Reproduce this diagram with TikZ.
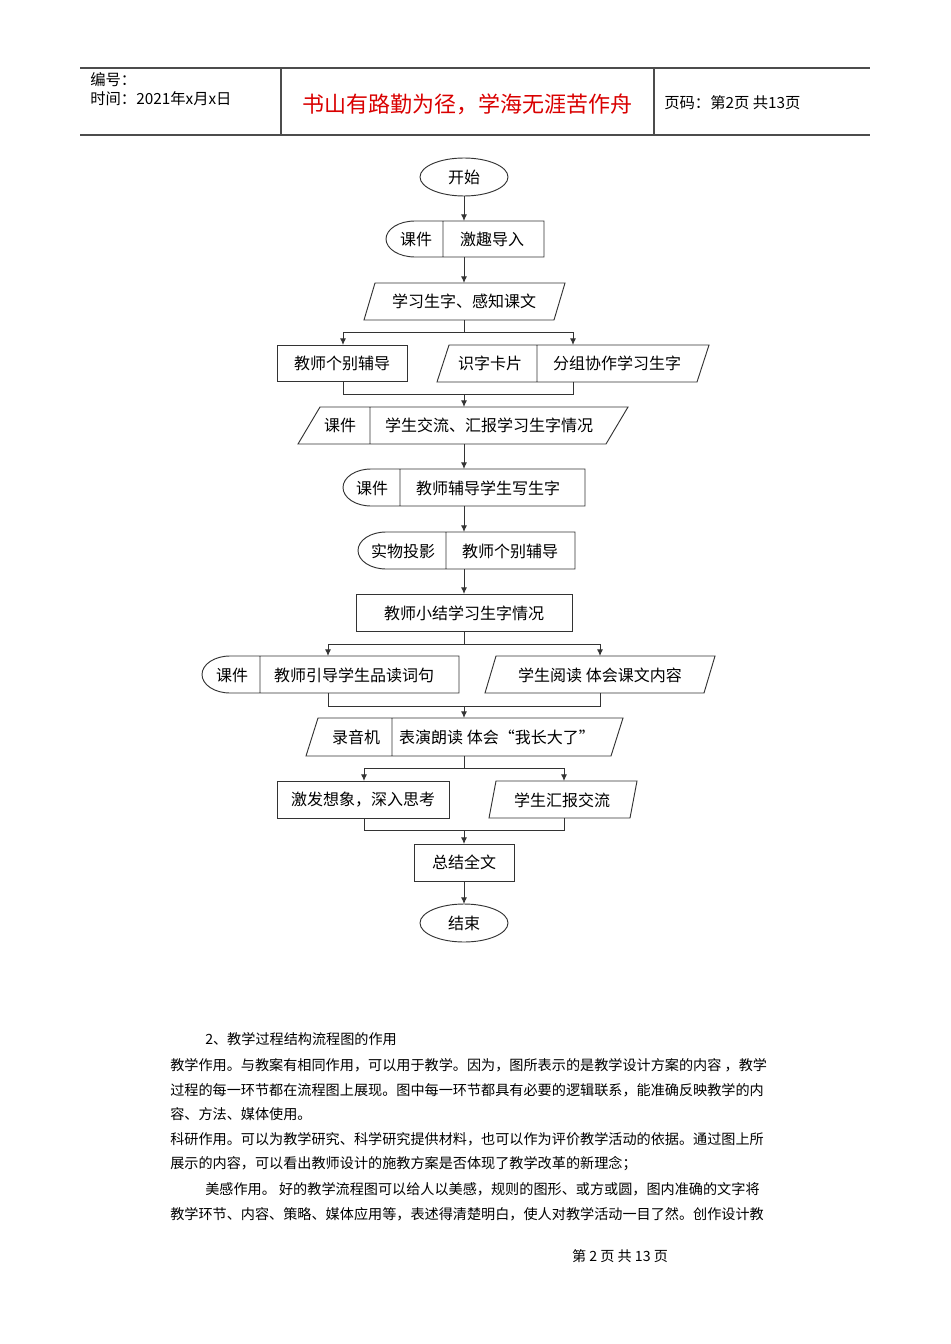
\documentclass[tikz,border=0pt]{standalone}
\usepackage{fontspec}
\setmainfont{Noto Sans CJK SC}
\usetikzlibrary{arrows.meta}
\begin{document}
\begin{tikzpicture}[x=0.75pt,y=-0.75pt,
  box/.style={draw=black!80,line width=0.7pt},
  lbl/.style={font=\fontsize{12pt}{14pt}\selectfont,inner sep=0pt},
  conn/.style={draw=black!80,line width=0.7pt},
  arr/.style={conn,-{Latex[length=5pt,width=4.5pt]}},
  para/.style={font=\fontsize{10.6pt}{12pt}\selectfont,inner sep=0pt,anchor=west}]
\useasboundingbox (0,0) rectangle (950,1344);
% header
\draw[line width=0.8pt,black!70] (80,68) -- (870,68) (80,135) -- (870,135) (281,68) -- (281,135) (654,68) -- (654,135);
\node[anchor=west,inner sep=0pt,font=\fontsize{11.5pt}{13pt}\selectfont] (h1) at (90,80) {编号：};
\node[anchor=west,inner sep=0pt,font=\fontsize{11.5pt}{13pt}\selectfont] (h2) at (90,99) {时间：2021年x月x日};
\node[inner sep=0pt,text=red!85!black,font=\fontsize{16.5pt}{18pt}\selectfont] (h3) at (467,104) {书山有路勤为径，学海无涯苦作舟};
\node[anchor=west,inner sep=0pt,font=\fontsize{11.5pt}{13pt}\selectfont] (h4) at (664,103) {页码：第2页\ 共13页};
% start
\draw[box] (464,177) ellipse (44 and 19);
\node[lbl] (start) at (464,177) {开始};
% row 2
\draw[box] (443,221) -- (415,221) arc[start angle=270,end angle=90,x radius=29,y radius=18] -- (443,257) (443,221) rectangle (544,257);
\node[lbl] (r2a) at (416,239) {课件};
\node[lbl] (r2b) at (492,239) {激趣导入};
% row 3
\draw[box] (375,283) -- (565,283) -- (554,320) -- (364,320) -- cycle;
\node[lbl] (r3) at (464,301) {学习生字、感知课文};
% row 4
\draw[box] (277,345) rectangle (407,381);
\node[lbl] (r4a) at (342,363) {教师个别辅导};
\draw[box] (449,345) -- (709,345) -- (697,382) -- (437,382) -- cycle (537,345) -- (537,382);
\node[lbl] (r4b) at (490,363) {识字卡片};
\node[lbl] (r4c) at (617,363) {分组协作学习生字};
% row 5
\draw[box] (320,407) -- (628,407) -- (606,444) -- (298,444) -- cycle (370,407) -- (370,444);
\node[lbl] (r5a) at (340,425) {课件};
\node[lbl] (r5b) at (489,425) {学生交流、汇报学习生字情况};
% row 6
\draw[box] (400,469) -- (371,469) arc[start angle=270,end angle=90,x radius=28,y radius=18.5] -- (400,506) (400,469) rectangle (585,506);
\node[lbl] (r6a) at (372,488) {课件};
\node[lbl] (r6b) at (488,488) {教师辅导学生写生字};
% row 7
\draw[box] (446,532) -- (386,532) arc[start angle=270,end angle=90,x radius=28,y radius=18.5] -- (446,569) (446,532) rectangle (575,569);
\node[lbl] (r7a) at (403,551) {实物投影};
\node[lbl] (r7b) at (510,551) {教师个别辅导};
% row 8
\draw[box] (356,594) rectangle (572,631);
\node[lbl] (r8) at (464,613) {教师小结学习生字情况};
% row 9
\draw[box] (260,656) -- (230,656) arc[start angle=270,end angle=90,x radius=28,y radius=18.5] -- (260,693) (260,656) rectangle (459,693);
\node[lbl] (r9a) at (232,675) {课件};
\node[lbl] (r9b) at (354,675) {教师引导学生品读词句};
\draw[box] (496,656) -- (715,656) -- (704,693) -- (485,693) -- cycle;
\node[lbl] (r9c) at (600,675) {学生阅读\ 体会课文内容};
% row 10
\draw[box] (318,718) -- (623,718) -- (611,756) -- (306,756) -- cycle (392,718) -- (392,756);
\node[lbl] (r10a) at (356,737) {录音机};
\node[lbl] (r10b) at (497,737) {表演朗读\ 体会“我长大了”};
% row 11
\draw[box] (277,781) rectangle (449,818);
\node[lbl] (r11a) at (363,800) {激发想象，深入思考};
\draw[box] (496,781) -- (637,781) -- (630,818) -- (489,818) -- cycle;
\node[lbl] (r11b) at (562,800) {学生汇报交流};
% row 12
\draw[box] (414,844) rectangle (514,881);
\node[lbl] (r12) at (464,862) {总结全文};
\draw[box] (464,923) ellipse (44 and 19);
\node[lbl] (end) at (464,923) {结束};
% connector coordinates
\coordinate (a1) at (464,196); \coordinate (a2) at (464,221);
\coordinate (b1) at (464,257); \coordinate (b2) at (464,283);
\coordinate (c1) at (464,320); \coordinate (c2) at (464,332);
\coordinate (cl) at (343,332); \coordinate (cr) at (573,332);
\coordinate (cl2) at (343,345); \coordinate (cr2) at (573,345);
\coordinate (dl) at (343,381); \coordinate (dr) at (573,382);
\coordinate (dl2) at (343,394); \coordinate (dr2) at (573,394);
\coordinate (dm) at (464,394); \coordinate (dm2) at (464,407);
\coordinate (e1) at (464,444); \coordinate (e2) at (464,469);
\coordinate (f1) at (464,506); \coordinate (f2) at (464,532);
\coordinate (g1) at (464,569); \coordinate (g2) at (464,594);
\coordinate (h1c) at (464,631); \coordinate (h2c) at (464,644);
\coordinate (hl) at (328,644); \coordinate (hr) at (600,644);
\coordinate (hl2) at (328,656); \coordinate (hr2) at (600,656);
\coordinate (il) at (328,693); \coordinate (ir) at (600,693);
\coordinate (il2) at (328,706); \coordinate (ir2) at (600,706);
\coordinate (im) at (464,706); \coordinate (im2) at (464,718);
\coordinate (j1) at (464,756); \coordinate (j2) at (464,768);
\coordinate (jl) at (364,768); \coordinate (jr) at (564,768);
\coordinate (jl2) at (364,781); \coordinate (jr2) at (564,781);
\coordinate (kl) at (364,818); \coordinate (kr) at (564,818);
\coordinate (kl2) at (364,830); \coordinate (kr2) at (564,830);
\coordinate (km) at (464,830); \coordinate (km2) at (464,844);
\coordinate (l1) at (464,881); \coordinate (l2) at (464,904);
\draw[arr] (a1) -- (a2);
\draw[arr] (b1) -- (b2);
\draw[conn] (c1) -- (c2) (cl) -- (cr);
\draw[arr] (cl) -- (cl2);
\draw[arr] (cr) -- (cr2);
\draw[conn] (dl) -- (dl2) -- (dr2) -- (dr);
\draw[arr] (dm) -- (dm2);
\draw[arr] (e1) -- (e2);
\draw[arr] (f1) -- (f2);
\draw[arr] (g1) -- (g2);
\draw[conn] (h1c) -- (h2c) (hl) -- (hr);
\draw[arr] (hl) -- (hl2);
\draw[arr] (hr) -- (hr2);
\draw[conn] (il) -- (il2) -- (ir2) -- (ir);
\draw[arr] (im) -- (im2);
\draw[conn] (j1) -- (j2) (jl) -- (jr);
\draw[arr] (jl) -- (jl2);
\draw[arr] (jr) -- (jr2);
\draw[conn] (kl) -- (kl2) -- (kr2) -- (kr);
\draw[arr] (km) -- (km2);
\draw[arr] (l1) -- (l2);
% text
\node[para] (p1) at (205,1039) {2、教学过程结构流程图的作用};
\node[para] (p2) at (170,1065) {教学作用。与教案有相同作用，可以用于教学。因为，图所表示的是教学设计方案的内容\ ，教学};
\node[para] (p3) at (170,1090) {过程的每一环节都在流程图上展现。图中每一环节都具有必要的逻辑联系，能准确反映教学的内};
\node[para] (p4) at (170,1114) {容、方法、媒体使用。};
\node[para] (p5) at (170,1139) {科研作用。可以为教学研究、科学研究提供材料，也可以作为评价教学活动的依据。通过图上所};
\node[para] (p6) at (170,1164) {展示的内容，可以看出教师设计的施教方案是否体现了教学改革的新理念；};
\node[para] (p7) at (205,1189) {美感作用。\ 好的教学流程图可以给人以美感，规则的图形、或方或圆，图内准确的文字将};
\node[para] (p8) at (170,1214) {教学环节、内容、策略、媒体应用等，表述得清楚明白，使人对教学活动一目了然。创作设计教};
\node[para,anchor=center] (p9) at (620,1256) {第\ 2\ 页\ 共\ 13\ 页};
\end{tikzpicture}
\end{document}
